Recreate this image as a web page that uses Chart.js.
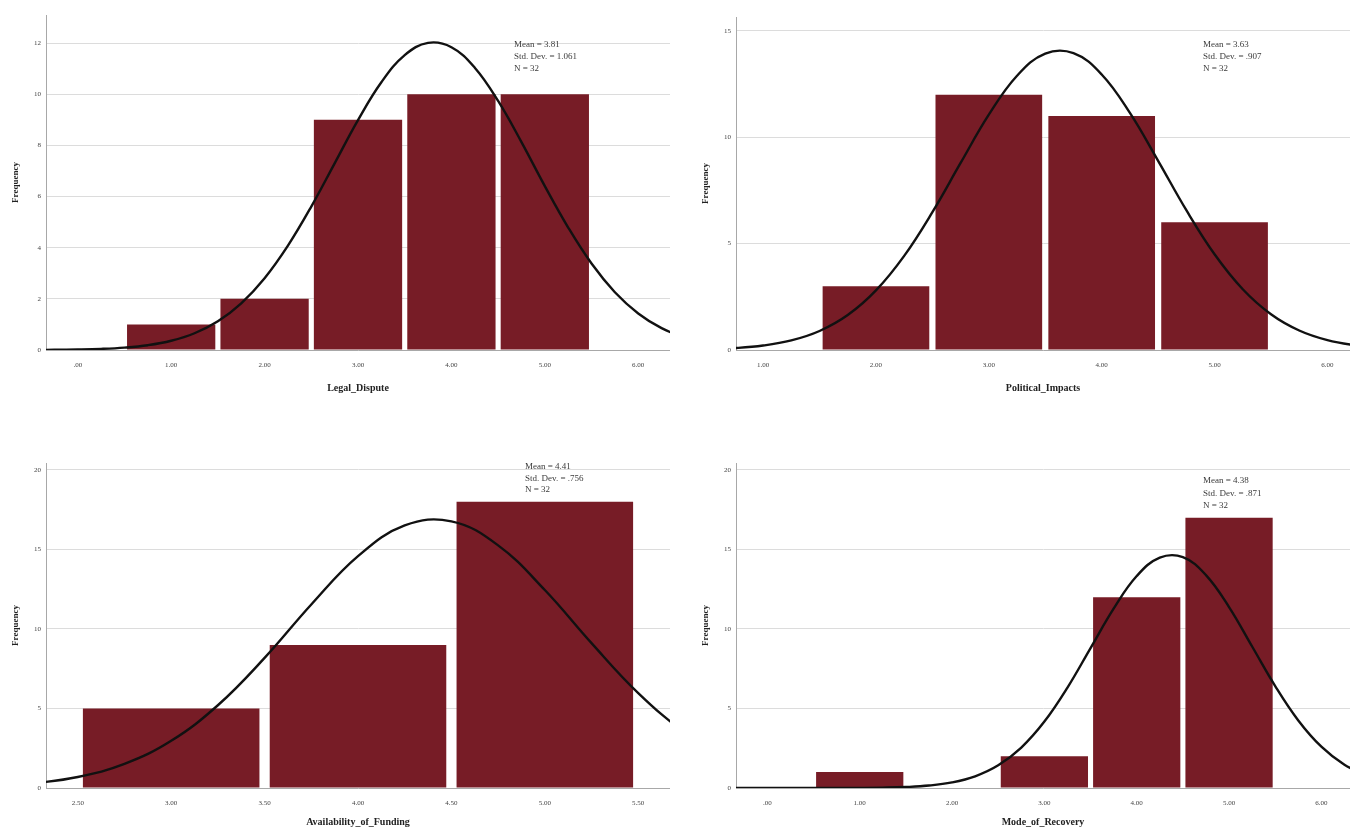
<!DOCTYPE html>
<html>
<head>
<meta charset="utf-8">
<script src="https://cdn.jsdelivr.net/npm/chart.js@4.4.1/dist/chart.umd.min.js"></script>
<style>
  body { margin: 0; background: #fff; width: 1350px; height: 830px; overflow: hidden; position: relative; }
  canvas { position: absolute; }
</style>
</head>
<body>
<canvas id="c1" width="670" height="400" style="left:0;top:0"></canvas>
<canvas id="c2" width="660" height="400" style="left:690px;top:0"></canvas>
<canvas id="c3" width="670" height="382" style="left:0;top:448px"></canvas>
<canvas id="c4" width="660" height="382" style="left:690px;top:448px"></canvas>
<script>
// Legal_Dispute
const legalBins = [1, 2, 3, 4, 5];
const legalCounts = [1, 2, 9, 10, 10];
const legalCurveX = [-0.5, -0.25, 0, 0.25, 0.5, 0.75, 1, 1.25, 1.5, 1.75, 2, 2.25, 2.5, 2.75, 3, 3.25, 3.5, 3.75, 4, 4.25, 4.5, 4.75, 5, 5.25, 5.5, 5.75, 6, 6.25, 6.5];
const legalCurveY = [0.003, 0.008, 0.019, 0.043, 0.093, 0.188, 0.361, 0.655, 1.125, 1.826, 2.808, 4.082, 5.61, 7.30, 8.99, 10.47, 11.53, 12.01, 11.84, 11.04, 9.74, 8.13, 6.41, 4.79, 3.38, 2.26, 1.43, 0.854, 0.484];
const legalXTicks = [0, 1, 2, 3, 4, 5, 6];
const legalXLabels = ['.00', '1.00', '2.00', '3.00', '4.00', '5.00', '6.00'];
const legalYTicks = [0, 2, 4, 6, 8, 10, 12];
const legalStats = ['Mean = 3.81', 'Std. Dev. = 1.061', 'N = 32'];

// Political_Impacts
const politicalBins = [2, 3, 4, 5];
const politicalCounts = [3, 12, 11, 6];
const politicalCurveX = [0.5, 0.75, 1, 1.25, 1.5, 1.75, 2, 2.25, 2.5, 2.75, 3, 3.25, 3.5, 3.75, 4, 4.25, 4.5, 4.75, 5, 5.25, 5.5, 5.75, 6, 6.25, 6.5];
const politicalCurveY = [0.036, 0.091, 0.210, 0.450, 0.893, 1.642, 2.800, 4.424, 6.479, 8.79, 11.06, 12.89, 13.93, 13.95, 12.95, 11.14, 8.89, 6.57, 4.50, 2.856, 1.680, 0.916, 0.463, 0.217, 0.094];
const politicalXTicks = [1, 2, 3, 4, 5, 6];
const politicalXLabels = ['1.00', '2.00', '3.00', '4.00', '5.00', '6.00'];
const politicalYTicks = [0, 5, 10, 15];
const politicalStats = ['Mean = 3.63', 'Std. Dev. = .907', 'N = 32'];

// Availability_of_Funding
const fundingBins = [3, 4, 5];
const fundingCounts = [5, 9, 18];
const fundingCurveX = [2, 2.25, 2.5, 2.75, 3, 3.25, 3.5, 3.75, 4, 4.25, 4.5, 4.75, 5, 5.25, 5.5, 5.75, 6];
const fundingCurveY = [0.105, 0.285, 0.694, 1.516, 2.966, 5.203, 8.18, 11.54, 14.58, 16.51, 16.77, 15.26, 12.45, 9.11, 5.97, 3.51, 1.85];
const fundingXTicks = [2.5, 3, 3.5, 4, 4.5, 5, 5.5];
const fundingXLabels = ['2.50', '3.00', '3.50', '4.00', '4.50', '5.00', '5.50'];
const fundingYTicks = [0, 5, 10, 15, 20];
const fundingStats = ['Mean = 4.41', 'Std. Dev. = .756', 'N = 32'];

// Mode_of_Recovery
const recoveryBins = [1, 3, 4, 5];
const recoveryCounts = [1, 2, 12, 17];
const recoveryCurveX = [-0.5, 0, 0.5, 0.75, 1, 1.25, 1.5, 1.75, 2, 2.25, 2.5, 2.75, 3, 3.25, 3.5, 3.75, 4, 4.25, 4.5, 4.75, 5, 5.25, 5.5, 5.75, 6, 6.25, 6.5];
const recoveryCurveY = [0, 0, 0.001, 0.0025, 0.008, 0.023, 0.062, 0.153, 0.351, 0.737, 1.427, 2.544, 4.177, 6.317, 8.80, 11.28, 13.33, 14.49, 14.52, 13.39, 11.38, 8.90, 6.41, 4.25, 2.599, 1.463, 0.758];
const recoveryXTicks = [0, 1, 2, 3, 4, 5, 6];
const recoveryXLabels = ['.00', '1.00', '2.00', '3.00', '4.00', '5.00', '6.00'];
const recoveryYTicks = [0, 5, 10, 15, 20];
const recoveryStats = ['Mean = 4.38', 'Std. Dev. = .871', 'N = 32'];

const serif = "'Liberation Serif', 'DejaVu Serif', serif";
const barColor = '#771c26';

// little plugin for the Mean / Std. Dev. / N box
const statsPlugin = {
  id: 'stats',
  afterDraw(chart, args, opts) {
    const ctx = chart.ctx;
    ctx.save();
    ctx.font = '9px ' + serif;
    ctx.fillStyle = '#3a3a3a';
    ctx.textBaseline = 'middle';
    opts.lines.forEach((t, i) => ctx.fillText(t, opts.x, opts.y + i * opts.step));
    ctx.restore();
  }
};

function histogram(id, o) {
  new Chart(document.getElementById(id), {
    type: 'bar',
    data: {
      datasets: [
        {
          type: 'line',
          data: o.curveX.map((x, i) => ({ x: x, y: o.curveY[i] })),
          borderColor: '#111',
          borderWidth: 2.4,
          pointRadius: 0,
          tension: 0.4,
          order: 0
        },
        {
          type: 'bar',
          data: o.bins.map((x, i) => ({ x: x, y: o.counts[i] })),
          backgroundColor: barColor,
          barPercentage: 0.945,
          // bar ruler uses the tick spacing too, so half-unit ticks need x2
          categoryPercentage: o.binFactor || 1,
          order: 1
        }
      ]
    },
    options: {
      responsive: false,
      animation: false,
      layout: { padding: { top: o.padTop, right: 0, left: 0, bottom: 0 } },
      plugins: {
        legend: { display: false },
        tooltip: { enabled: false },
        stats: { lines: o.stats, x: o.statsX, y: o.statsY, step: o.statsStep }
      },
      scales: {
        x: {
          type: 'linear',
          min: o.xMin,
          max: o.xMax,
          offset: false,
          afterBuildTicks: s => { s.ticks = o.xTicks.map(v => ({ value: v })); },
          afterFit: s => { s.height = o.xAxisH; },
          grid: { display: false },
          border: { display: true, color: '#a8a8a8' },
          ticks: {
            callback: (v, i) => o.xLabels[i],
            font: { family: serif, size: 7 },
            color: '#444',
            maxRotation: 0,
            autoSkip: false,
            padding: 3
          },
          title: {
            display: true,
            text: o.xTitle,
            font: { family: serif, size: 10, weight: 'bold' },
            color: '#222',
            padding: { top: 0, bottom: o.xTitlePad }
          }
        },
        y: {
          min: 0,
          max: o.yMax,
          afterBuildTicks: s => { s.ticks = o.yTicks.map(v => ({ value: v })); },
          afterFit: s => { s.width = 46; },
          grid: { color: '#dcdcdc', drawTicks: false },
          border: { display: true, color: '#a8a8a8' },
          ticks: { font: { family: serif, size: 7 }, color: '#444', padding: 5 },
          title: {
            display: true,
            text: 'Frequency',
            font: { family: serif, size: 9, weight: 'bold' },
            color: '#222',
            padding: { top: 10, bottom: 0 }
          }
        }
      }
    },
    plugins: [statsPlugin]
  });
}

histogram('c1', {
  bins: legalBins, counts: legalCounts, curveX: legalCurveX, curveY: legalCurveY,
  xTicks: legalXTicks, xLabels: legalXLabels, yTicks: legalYTicks,
  xMin: -0.34, xMax: 6.34, yMax: 13.1, padTop: 15, xAxisH: 50, xTitlePad: 6,
  xTitle: 'Legal_Dispute', stats: legalStats, statsX: 514, statsY: 45, statsStep: 12
});

histogram('c2', {
  bins: politicalBins, counts: politicalCounts, curveX: politicalCurveX, curveY: politicalCurveY,
  xTicks: politicalXTicks, xLabels: politicalXLabels, yTicks: politicalYTicks,
  xMin: 0.76, xMax: 6.2, yMax: 15.65, padTop: 17, xAxisH: 50, xTitlePad: 6,
  xTitle: 'Political_Impacts', stats: politicalStats, statsX: 513, statsY: 45, statsStep: 12
});

histogram('c3', {
  bins: fundingBins, counts: fundingCounts, curveX: fundingCurveX, curveY: fundingCurveY,
  xTicks: fundingXTicks, xLabels: fundingXLabels, yTicks: fundingYTicks, binFactor: 2,
  xMin: 2.33, xMax: 5.67, yMax: 20.44, padTop: 15, xAxisH: 42, xTitlePad: 2,
  xTitle: 'Availability_of_Funding', stats: fundingStats, statsX: 525, statsY: 19, statsStep: 11.5
});

histogram('c4', {
  bins: recoveryBins, counts: recoveryCounts, curveX: recoveryCurveX, curveY: recoveryCurveY,
  xTicks: recoveryXTicks, xLabels: recoveryXLabels, yTicks: recoveryYTicks,
  xMin: -0.34, xMax: 6.31, yMax: 20.44, padTop: 15, xAxisH: 42, xTitlePad: 2,
  xTitle: 'Mode_of_Recovery', stats: recoveryStats, statsX: 513, statsY: 33, statsStep: 12.5
});
</script>
</body>
</html>
